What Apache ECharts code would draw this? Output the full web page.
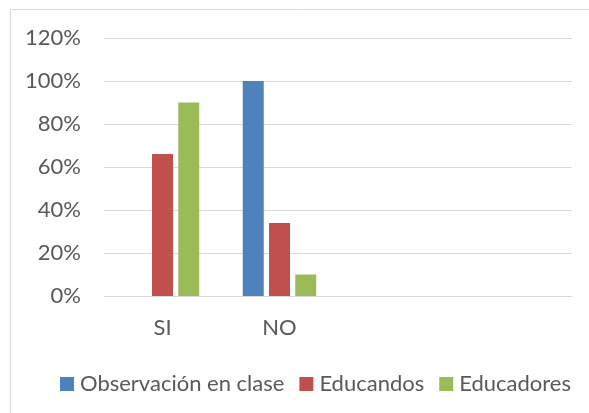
<!DOCTYPE html>
<html>
<head>
<meta charset="utf-8">
<script src="https://cdn.jsdelivr.net/npm/echarts@6/dist/echarts.min.js"></script>
<style>
  html, body { margin: 0; padding: 0; background: #fff; }
  #chart { width: 589px; height: 413px; }
</style>
</head>
<body>
<div id="chart"></div>
<script>
// datos del grafico
var categorias = ['SI', 'NO', '', ''];
var observacion = [0, 100];
var educandos = [66, 34];
var educadores = [90, 10];
var ticksY = [0, 120, 20]; // min, max, intervalo

var fuente = 'Lato';
var gris = '#595959';
var tam = 22;

var chart = echarts.init(document.getElementById('chart'));

var option = {
    animation: false,
    textStyle: { fontFamily: fuente },
    graphic: [
        {
            type: 'rect',
            shape: { x: 10.5, y: 9.5, width: 600, height: 420 },
            style: { fill: 'none', stroke: '#d9d9d9', lineWidth: 1 },
            silent: true
        }
    ],
    grid: {
        left: 104,
        right: 17,
        top: 38,
        bottom: 117
    },
    legend: {
        left: 55,
        top: 368,
        itemWidth: 14,
        itemHeight: 14,
        itemGap: 15,
        icon: 'rect',
        textStyle: { color: gris, fontSize: tam, fontFamily: fuente, padding: [0, 0, 0, 1] },
        data: ['Observación en clase', 'Educandos', 'Educadores']
    },
    xAxis: {
        type: 'category',
        data: categorias,
        axisLine: { lineStyle: { color: '#d9d9d9', width: 1 } },
        axisTick: { show: false },
        axisLabel: { color: gris, fontSize: tam, margin: 21, fontFamily: fuente }
    },
    yAxis: {
        type: 'value',
        min: ticksY[0],
        max: ticksY[1],
        interval: ticksY[2],
        axisLine: { show: false },
        axisTick: { show: false },
        axisLabel: { color: gris, fontSize: tam, margin: 23, formatter: '{value}%', fontFamily: fuente },
        splitLine: { lineStyle: { color: '#d9d9d9', width: 1 } }
    },
    series: [
        {
            name: 'Observación en clase',
            type: 'bar',
            data: observacion,
            barWidth: 21,
            barGap: '25%',
            itemStyle: { color: '#4f81bd' }
        },
        {
            name: 'Educandos',
            type: 'bar',
            data: educandos,
            barWidth: 21,
            barGap: '25%',
            itemStyle: { color: '#c0504d' }
        },
        {
            name: 'Educadores',
            type: 'bar',
            data: educadores,
            barWidth: 21,
            barGap: '25%',
            itemStyle: { color: '#9bbb59' }
        }
    ]
};

chart.setOption(option);
</script>
</body>
</html>
